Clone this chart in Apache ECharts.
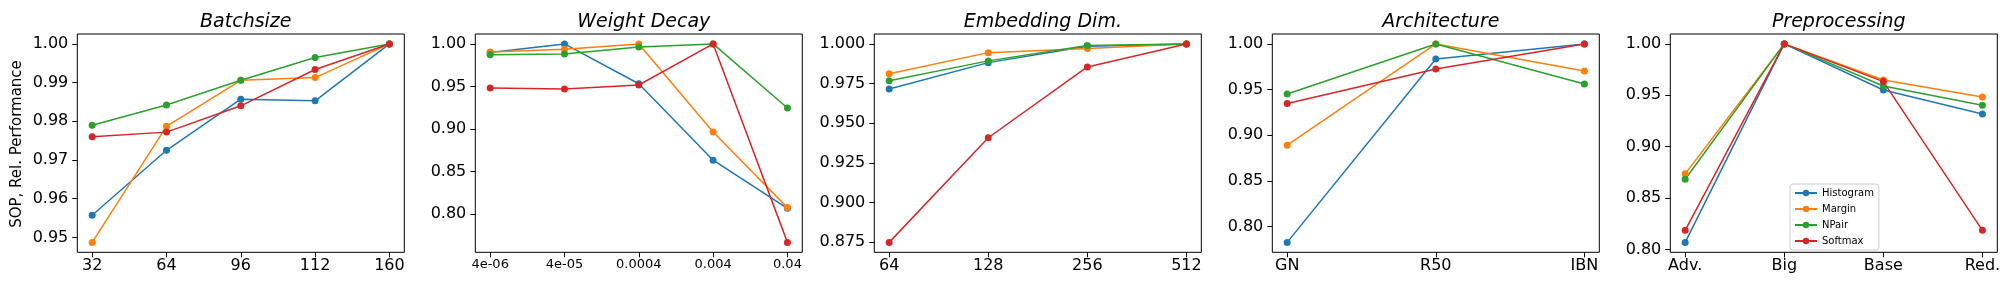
<!DOCTYPE html>
<html><head><meta charset="utf-8">
<script src="https://cdn.jsdelivr.net/npm/echarts@6/dist/echarts.min.js"></script>
<style>html,body{margin:0;padding:0;background:#fff}#c{width:2016px;height:288px}</style>
</head><body><div id="c"></div>
<script>
// ---- data ----
const seriesNames = ['Histogram', 'Margin', 'NPair', 'Softmax'];
const colors = ['#1f77b4', '#ff7f0e', '#2ca02c', '#d62728'];

const titles = ['Batchsize', 'Weight Decay', 'Embedding Dim.', 'Architecture', 'Preprocessing'];

const bsCats = ['32', '64', '96', '112', '160'];
const bsHistogram = [0.9557, 0.9725, 0.9857, 0.9853, 1.0];
const bsMargin = [0.9487, 0.9787, 0.9906, 0.9913, 1.0];
const bsNPair = [0.9790, 0.9842, 0.9906, 0.9965, 1.0];
const bsSoftmax = [0.9760, 0.9772, 0.9840, 0.9934, 1.0];
const bsTicks = [0.95, 0.96, 0.97, 0.98, 0.99, 1.00];

const wdCats = ['4e-06', '4e-05', '0.0004', '0.004', '0.04'];
const wdHistogram = [0.9898, 1.0, 0.9532, 0.8633, 0.8067];
const wdMargin = [0.9906, 0.9937, 1.0, 0.8963, 0.8075];
const wdNPair = [0.9874, 0.9882, 0.9965, 1.0, 0.9246];
const wdSoftmax = [0.9481, 0.9470, 0.9517, 1.0, 0.7666];
const wdTicks = [0.80, 0.85, 0.90, 0.95, 1.00];

const edCats = ['64', '128', '256', '512'];
const edHistogram = [0.9715, 0.9882, 0.9985, 1.0];
const edMargin = [0.9812, 0.9945, 0.9971, 1.0];
const edNPair = [0.9768, 0.9893, 0.9990, 1.0];
const edSoftmax = [0.8748, 0.9408, 0.9855, 1.0];
const edTicks = [0.875, 0.900, 0.925, 0.950, 0.975, 1.000];

const arCats = ['GN', 'R50', 'IBN'];
const arHistogram = [0.7828, 0.9836, 1.0];
const arMargin = [0.8892, 1.0, 0.9704];
const arNPair = [0.9452, 1.0, 0.9561];
const arSoftmax = [0.9349, 0.9726, 1.0];
const arTicks = [0.80, 0.85, 0.90, 0.95, 1.00];

const ppCats = ['Adv.', 'Big', 'Base', 'Red.'];
const ppHistogram = [0.8068, 1.0, 0.9551, 0.9317];
const ppMargin = [0.8735, 1.0, 0.9649, 0.9483];
const ppNPair = [0.8683, 1.0, 0.9590, 0.9402];
const ppSoftmax = [0.8185, 1.0, 0.9633, 0.8185];
const ppTicks = [0.80, 0.85, 0.90, 0.95, 1.00];

const panels = [
  { cats: bsCats, vals: [bsHistogram, bsMargin, bsNPair, bsSoftmax], ticks: bsTicks, dec: 2, xFont: 16 },
  { cats: wdCats, vals: [wdHistogram, wdMargin, wdNPair, wdSoftmax], ticks: wdTicks, dec: 2, xFont: 13 },
  { cats: edCats, vals: [edHistogram, edMargin, edNPair, edSoftmax], ticks: edTicks, dec: 3, xFont: 16 },
  { cats: arCats, vals: [arHistogram, arMargin, arNPair, arSoftmax], ticks: arTicks, dec: 2, xFont: 16 },
  { cats: ppCats, vals: [ppHistogram, ppMargin, ppNPair, ppSoftmax], ticks: ppTicks, dec: 2, xFont: 16 }
];

// ---- layout ----
const gridLefts = [77.3, 475.3, 874.3, 1272.3, 1670.3];
const gridW = 327, gridTop = 34, gridH = 218.3;
const FONT = 'DejaVu Sans';

const grid = [], xAxis = [], yAxis = [], series = [], title = [];
panels.forEach((p, i) => {
  grid.push({ left: gridLefts[i], top: gridTop, width: gridW, height: gridH,
    show: true, borderColor: '#000', borderWidth: 1, backgroundColor: 'transparent' });
  const n = p.cats.length;
  const xm = 0.05 * (n - 1);
  const idx = p.cats.map((_, k) => k);
  xAxis.push({ type: 'value', gridIndex: i, min: -xm, max: n - 1 + xm, position: 'bottom',
    axisLine: { show: false, onZero: false }, splitLine: { show: false },
    axisTick: { show: true, length: 5, lineStyle: { color: '#000' }, customValues: idx },
    axisLabel: { customValues: idx, color: '#000', fontFamily: FONT, fontSize: p.xFont, margin: 6,
      formatter: v => p.cats[Math.round(v)] }
  });
  const all = [].concat(...p.vals);
  const lo = Math.min(...all), hi = Math.max(...all);
  const ym = 0.05 * (hi - lo);
  yAxis.push({ type: 'value', gridIndex: i, min: lo - ym, max: hi + ym, position: 'left',
    axisLine: { show: false, onZero: false }, splitLine: { show: false },
    axisTick: { show: true, length: 5, lineStyle: { color: '#000' }, customValues: p.ticks },
    axisLabel: { customValues: p.ticks, color: '#000', fontFamily: FONT, fontSize: 16, margin: 9,
      formatter: v => v.toFixed(p.dec) }
  });
  p.vals.forEach((vals, s) => {
    series.push({ type: 'line', name: seriesNames[s], xAxisIndex: i, yAxisIndex: i,
      data: vals.map((v, k) => [k, v]),
      symbol: 'circle', symbolSize: 7, showAllSymbol: true,
      lineStyle: { color: colors[s], width: 1.5 },
      itemStyle: { color: colors[s] },
      emphasis: { disabled: true }
    });
  });
  title.push({ text: titles[i], left: gridLefts[i] + gridW / 2, top: 8, textAlign: 'center',
    textStyle: { fontFamily: FONT, fontStyle: 'italic', fontWeight: 'normal', fontSize: 19, color: '#000' } });
});

const chart = echarts.init(document.getElementById('c'), null, { renderer: 'canvas' });
chart.setOption({
  animation: false,
  title, grid, xAxis, yAxis, series,
  legend: {
    data: seriesNames, left: 1790, top: 184, orient: 'vertical',
    backgroundColor: '#fff', borderColor: '#cccccc', borderWidth: 1, borderRadius: 3,
    padding: [4, 5, 4, 4], itemWidth: 22, itemHeight: 8, itemGap: 6,
    textStyle: { fontFamily: FONT, fontSize: 10, color: '#000' }
  },
  graphic: [{ type: 'text', x: 16.7, y: 144, rotation: Math.PI / 2,
    style: { text: 'SOP, Rel. Performance', fontFamily: FONT, fontSize: 15, fill: '#000',
      textAlign: 'center', textVerticalAlign: 'middle' } }]
});
</script></body></html>
